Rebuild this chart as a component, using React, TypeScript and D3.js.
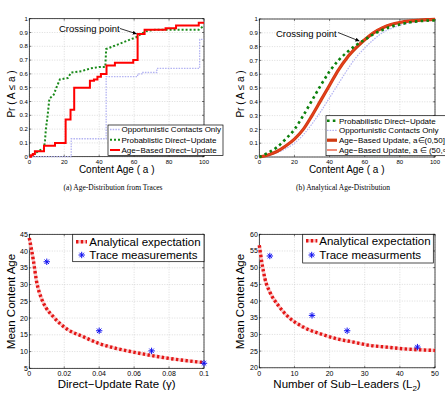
import React from "react";
import * as d3 from "d3";

// ---- (a) age distribution from traces, [age, cdf] ----
const traceOpportunistic = [
  [0, 0], [24, 0.13], [44, 0.58], [62, 0.6], [65, 0.61], [73, 0.64], [97.5, 0.85], [100, 0.85],
];
const traceProbabilistic = [
  [0, 0], [3, 0.02], [5, 0.04], [8.4, 0.06], [9, 0.12], [9.5, 0.2], [10.5, 0.3], [11.5, 0.42],
  [14, 0.45], [15.5, 0.5], [17.5, 0.56], [22, 0.57], [24, 0.61], [30, 0.62], [35, 0.64],
  [40, 0.65], [43.5, 0.65], [44, 0.78], [48, 0.8], [52, 0.82], [56, 0.84], [60, 0.86],
  [62, 0.87], [64, 0.89], [67, 0.91], [72, 0.92], [97, 0.92], [100, 0.95],
];
const traceAgeBased = [
  [0, 0], [1, 0.01], [2, 0.02], [3.2, 0.04], [8.4, 0.08], [14.7, 0.1], [20.8, 0.27], [23.6, 0.34],
  [25.7, 0.5], [34.7, 0.55], [37, 0.56], [39, 0.58], [41, 0.6], [44.2, 0.66], [49, 0.68],
  [59.5, 0.7], [62, 0.89], [66, 0.92], [78, 0.93], [84, 0.95], [97, 0.97], [100, 0.97],
];

// ---- (b) analytical age distribution ----
const ageGrid = [0, 5, 10, 15, 20, 25, 30, 35, 40, 45, 50, 55, 60, 65, 70, 75, 80, 85, 90, 95, 100];
const anaProbabilistic = [0, 0.03, 0.07, 0.13, 0.2, 0.3, 0.41, 0.52, 0.62, 0.7, 0.76, 0.81, 0.85, 0.89, 0.92, 0.945, 0.96, 0.975, 0.983, 0.988, 0.99];
const anaOpportunistic = [0, 0.01, 0.03, 0.06, 0.1, 0.16, 0.24, 0.33, 0.43, 0.53, 0.63, 0.72, 0.79, 0.85, 0.9, 0.93, 0.955, 0.97, 0.98, 0.985, 0.99];
const anaAgeBasedLow = [0, 0.015, 0.04, 0.08, 0.13, 0.2, 0.3, 0.41, 0.52, 0.63, 0.72, 0.79, 0.85, 0.9, 0.935, 0.96, 0.975, 0.985, 0.99, 0.995, 0.997];
const anaAgeBasedHigh = [0, 0.015, 0.04, 0.08, 0.13, 0.2, 0.3, 0.41, 0.52, 0.63, 0.72, 0.795, 0.855, 0.905, 0.94, 0.963, 0.978, 0.987, 0.992, 0.995, 0.997];

// ---- (c) mean age vs direct-update rate ----
const gammaCurve = [
  [0, 43.9], [0.0023, 37.3], [0.0042, 30.8], [0.007, 25.8], [0.0093, 23.3], [0.0137, 20.4],
  [0.021, 16.9], [0.031, 14.4], [0.04, 12.4], [0.05, 10.9], [0.059, 9.9], [0.069, 8.9],
  [0.078, 8.1], [0.088, 7.4], [0.1, 6.7],
];
const gammaTrace = [[0.01, 36.8], [0.04, 16.2], [0.07, 10.2], [0.1, 6.5]];

// ---- (d) mean age vs number of sub-leaders ----
const leaderCurve = [
  [0, 56.7], [0.7, 51.7], [1.6, 46.7], [3, 42.7], [5.4, 38.7], [7.8, 35.7], [12.5, 32.2],
  [17.3, 30.2], [22, 28.7], [26.8, 27.7], [31.5, 26.7], [36.2, 26.2], [40.9, 25.7], [50, 25.2],
];
const leaderTrace = [[3, 53.5], [15, 35.7], [25, 31.1], [45, 26.2]];

const ticksA = [0, 20, 40, 60, 80, 100];
const ticksCdf = [0, 0.1, 0.2, 0.3, 0.4, 0.5, 0.6, 0.7, 0.8, 0.9, 1];
const ticksGamma = [0, 0.02, 0.04, 0.06, 0.08, 0.1];
const ticksMeanC = [5, 10, 15, 20, 25, 30, 35, 40, 45];
const ticksLeaders = [0, 10, 20, 30, 40, 50];
const ticksMeanD = [20, 25, 30, 35, 40, 45, 50, 55, 60];

const SANS = "'Liberation Sans', Arial, Helvetica, sans-serif";
const SERIF = "'Liberation Serif', 'Times New Roman', serif";

function Frame({ x, y, xTicks, yTicks, fs }) {
  const [x0, x1] = x.range();
  const [y1, y0] = y.range();
  return (
    <g>
      {xTicks.map((t) => (
        <g key={"x" + t}>
          <line x1={x(t)} x2={x(t)} y1={y0} y2={y1} stroke="#c4c4c4" strokeWidth={0.6} strokeDasharray="1,1.5" />
          <line x1={x(t)} x2={x(t)} y1={y1} y2={y1 - 2} stroke="#000" strokeWidth={0.5} />
          <line x1={x(t)} x2={x(t)} y1={y0} y2={y0 + 2} stroke="#000" strokeWidth={0.5} />
          <text x={x(t)} y={y1 + fs + 1} fontSize={fs} textAnchor="middle" fontFamily={SANS}>{String(t)}</text>
        </g>
      ))}
      {yTicks.map((t) => (
        <g key={"y" + t}>
          <line x1={x0} x2={x1} y1={y(t)} y2={y(t)} stroke="#c4c4c4" strokeWidth={0.6} strokeDasharray="1,1.5" />
          <line x1={x0} x2={x0 + 2} y1={y(t)} y2={y(t)} stroke="#000" strokeWidth={0.5} />
          <line x1={x1} x2={x1 - 2} y1={y(t)} y2={y(t)} stroke="#000" strokeWidth={0.5} />
          <text x={x0 - 1.5} y={y(t) + fs * 0.35} fontSize={fs} textAnchor="end" fontFamily={SANS}>{String(t)}</text>
        </g>
      ))}
      <rect x={x0} y={y0} width={x1 - x0} height={y1 - y0} fill="none" stroke="#000" strokeWidth={0.7} />
    </g>
  );
}

function star(cx, cy, r = 3.2) {
  const a = r * 0.7;
  return `M${cx - r},${cy}L${cx + r},${cy}M${cx},${cy - r}L${cx},${cy + r}M${cx - a},${cy - a}L${cx + a},${cy + a}M${cx - a},${cy + a}L${cx + a},${cy - a}`;
}

export default function App() {
  // panel boxes
  const xa = d3.scaleLinear().domain([0, 100]).range([29.3, 204]);
  const ya = d3.scaleLinear().domain([0, 1]).range([156.7, 18.7]);
  const xb = d3.scaleLinear().domain([0, 100]).range([259.3, 435]);
  const yb = d3.scaleLinear().domain([0, 1]).range([157, 19]);
  const xc = d3.scaleLinear().domain([0, 0.1]).range([29.3, 204]);
  const yc = d3.scaleLinear().domain([5, 45]).range([368.3, 234.3]);
  const xd = d3.scaleLinear().domain([0, 50]).range([259.3, 435]);
  const yd = d3.scaleLinear().domain([20, 60]).range([367.8, 234.3]);

  const stepA = d3.line().x((d) => xa(d[0])).y((d) => ya(d[1])).curve(d3.curveStepAfter);
  const lineA = d3.line().x((d) => xa(d[0])).y((d) => ya(d[1]));
  const curveB = (vals) =>
    d3.line().x((d, i) => xb(ageGrid[i])).y((d) => yb(d)).curve(d3.curveMonotoneX)(vals);
  const lineC = d3.line().x((d) => xc(d[0])).y((d) => yc(d[1])).curve(d3.curveMonotoneX);
  const lineD = d3.line().x((d) => xd(d[0])).y((d) => yd(d[1])).curve(d3.curveMonotoneX);

  const green = "#1a8a1a";
  const lav = "#b3b3f2";
  const dotRed = "#e31616";

  return (
    <svg width={445} height={395} style={{ position: "absolute", left: 0, top: 0, background: "#fff" }}>
      <defs>
        <marker id="arr" viewBox="0 0 10 10" refX="10" refY="5" markerWidth="5" markerHeight="5" orient="auto">
          <path d="M0,0L10,5L0,10z" fill="#000" />
        </marker>
      </defs>

      {/* ---------- (a) ---------- */}
      <Frame x={xa} y={ya} xTicks={ticksA} yTicks={ticksCdf} fs={6} />
      <path d={stepA(traceOpportunistic)} fill="none" stroke={lav} strokeWidth={1.3} strokeDasharray="1.5,1.2" />
      <path d={lineA(traceProbabilistic)} fill="none" stroke={green} strokeWidth={2} strokeDasharray="2,2" />
      <path d={stepA(traceAgeBased)} fill="none" stroke="#ff0000" strokeWidth={2} />
      <text x={59} y={31.5} fontSize={9.5} fontFamily={SANS}>Crossing point</text>
      <line x1={120} y1={28.5} x2={xa(61.5)} y2={ya(0.89)} stroke="#000" strokeWidth={0.8} markerEnd="url(#arr)" />
      <g>
        <rect x={108} y={125} width={115} height={30.5} fill="#fff" stroke="#000" strokeWidth={0.7} />
        <line x1={110} x2={120} y1={129.5} y2={129.5} stroke={lav} strokeWidth={1.3} strokeDasharray="1.5,1.2" />
        <text x={121.5} y={132.2} fontSize={8} fontFamily={SANS}>Opportunistic Contacts Only</text>
        <line x1={110} x2={120} y1={139.8} y2={139.8} stroke={green} strokeWidth={2} strokeDasharray="2,2" />
        <text x={121.5} y={142.5} fontSize={8} fontFamily={SANS}>Probablistic Direct−Update</text>
        <line x1={110} x2={120} y1={150} y2={150} stroke="#ff0000" strokeWidth={2} />
        <text x={121.5} y={152.7} fontSize={8} fontFamily={SANS}>Age−Based Direct−Update</text>
      </g>
      <text x={116.7} y={172.5} fontSize={10} textAnchor="middle" fontFamily={SANS}>Content Age ( a )</text>
      <text transform="translate(15,94) rotate(-90)" fontSize={10} textAnchor="middle" fontFamily={SANS}>Pr ( A ≤ a )</text>
      <text x={113} y={190} fontSize={7.5} textAnchor="middle" fontFamily={SERIF}>(a) Age-Distribution from Traces</text>

      {/* ---------- (b) ---------- */}
      <Frame x={xb} y={yb} xTicks={ticksA} yTicks={ticksCdf} fs={6} />
      <path d={curveB(anaOpportunistic)} fill="none" stroke={lav} strokeWidth={1.2} strokeDasharray="1.5,1.2" />
      <path d={curveB(anaAgeBasedLow)} fill="none" stroke="#d03a12" strokeWidth={3.2} />
      <path d={curveB(anaAgeBasedHigh)} fill="none" stroke="#e8401e" strokeWidth={1.2} />
      <path d={curveB(anaProbabilistic)} fill="none" stroke="#0c800c" strokeWidth={2.6} strokeDasharray="2.6,3.2" />
      <text x={276} y={36.5} fontSize={9.5} fontFamily={SANS}>Crossing point</text>
      <line x1={338} y1={32.5} x2={xb(57)} y2={yb(0.84)} stroke="#000" strokeWidth={0.8} markerEnd="url(#arr)" />
      <g>
        <rect x={326} y={115.7} width={130} height={40} fill="#fff" stroke="#000" strokeWidth={0.7} />
        <line x1={327} x2={337} y1={120.7} y2={120.7} stroke="#0c800c" strokeWidth={2.6} strokeDasharray="2.6,3.2" />
        <text x={339} y={123.5} fontSize={8} fontFamily={SANS}>Probabilistic Direct−Update</text>
        <line x1={327} x2={337} y1={130.3} y2={130.3} stroke={lav} strokeWidth={1.2} strokeDasharray="1.5,1.2" />
        <text x={339} y={133} fontSize={8} fontFamily={SANS}>Opportunistic Contacts Only</text>
        <line x1={327} x2={337} y1={140.2} y2={140.2} stroke="#d03a12" strokeWidth={3.2} />
        <text x={339} y={143} fontSize={8} fontFamily={SANS}>Age−Based Update, a∈(0,50]</text>
        <line x1={327} x2={337} y1={150} y2={150} stroke="#e8401e" strokeWidth={1.2} />
        <text x={339} y={152.8} fontSize={8} fontFamily={SANS}>Age−Based Update, a ∈ (50,∞)</text>
      </g>
      <text x={346.7} y={172.5} fontSize={10} textAnchor="middle" fontFamily={SANS}>Content Age ( a )</text>
      <text transform="translate(244,94) rotate(-90)" fontSize={10} textAnchor="middle" fontFamily={SANS}>Pr ( A ≤ a )</text>
      <text x={343} y={190} fontSize={7.5} textAnchor="middle" fontFamily={SERIF}>(b) Analytical Age-Distribution</text>

      {/* ---------- (c) ---------- */}
      <Frame x={xc} y={yc} xTicks={ticksGamma} yTicks={ticksMeanC} fs={7} />
      <path d={lineC(gammaCurve)} fill="none" stroke="#f9cccc" strokeWidth={3.4} />
      <path d={lineC(gammaCurve)} fill="none" stroke={dotRed} strokeWidth={3.4} strokeDasharray="2.4,2.4" />
      {gammaTrace.map((d, i) => (
        <path key={i} d={star(xc(d[0]), yc(d[1]))} stroke="#1010f0" strokeWidth={1} fill="none" />
      ))}
      <g>
        <rect x={72.7} y={234.3} width={131.3} height={27.4} fill="#fff" stroke="#000" strokeWidth={0.7} />
        <line x1={76} x2={87} y1={241.7} y2={241.7} stroke="#f9cccc" strokeWidth={3.4} />
        <line x1={76} x2={87} y1={241.7} y2={241.7} stroke={dotRed} strokeWidth={3.4} strokeDasharray="2.4,2.4" />
        <text x={89.3} y={245.8} fontSize={11.5} fontFamily={SANS}>Analytical expectation</text>
        <path d={star(81.7, 255)} stroke="#1010f0" strokeWidth={1} fill="none" />
        <text x={89.3} y={259.1} fontSize={11.5} fontFamily={SANS}>Trace measurements</text>
      </g>
      <text x={116.7} y={388} fontSize={11.5} textAnchor="middle" fontFamily={SANS}>Direct−Update Rate (γ)</text>
      <text transform="translate(15,301.5) rotate(-90)" fontSize={11.5} textAnchor="middle" fontFamily={SANS}>Mean Content Age</text>

      {/* ---------- (d) ---------- */}
      <Frame x={xd} y={yd} xTicks={ticksLeaders} yTicks={ticksMeanD} fs={7} />
      <path d={lineD(leaderCurve)} fill="none" stroke="#f9cccc" strokeWidth={3.4} />
      <path d={lineD(leaderCurve)} fill="none" stroke={dotRed} strokeWidth={3.4} strokeDasharray="2.4,2.4" />
      {leaderTrace.map((d, i) => (
        <path key={i} d={star(xd(d[0]), yd(d[1]))} stroke="#1010f0" strokeWidth={1} fill="none" />
      ))}
      <g>
        <rect x={302.7} y={234.3} width={130.6} height={28.7} fill="#fff" stroke="#000" strokeWidth={0.7} />
        <line x1={306} x2={317.3} y1={240.7} y2={240.7} stroke="#f9cccc" strokeWidth={3.4} />
        <line x1={306} x2={317.3} y1={240.7} y2={240.7} stroke={dotRed} strokeWidth={3.4} strokeDasharray="2.4,2.4" />
        <text x={319.3} y={244.8} fontSize={11.5} fontFamily={SANS}>Analytical expectation</text>
        <path d={star(311.7, 255)} stroke="#1010f0" strokeWidth={1} fill="none" />
        <text x={319.3} y={259.1} fontSize={11.5} fontFamily={SANS}>Trace measurments</text>
      </g>
      <text x={347} y={388} fontSize={11.5} textAnchor="middle" fontFamily={SANS}>
        Number of Sub−Leaders (L<tspan fontSize={8} dy={2.5}>2</tspan><tspan dy={-2.5}>)</tspan>
      </text>
      <text transform="translate(244,301.5) rotate(-90)" fontSize={11.5} textAnchor="middle" fontFamily={SANS}>Mean Content Age</text>
    </svg>
  );
}
